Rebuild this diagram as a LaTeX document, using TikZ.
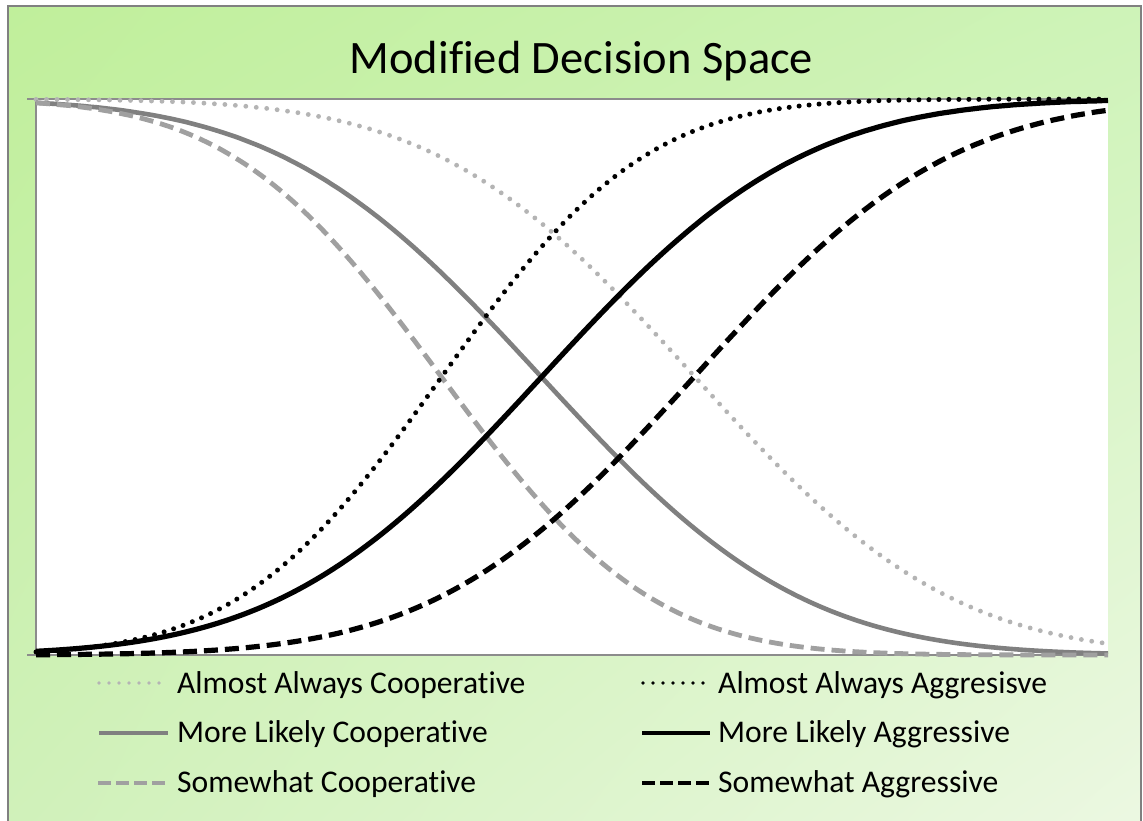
\documentclass[tikz,border=0pt]{standalone}
\usepackage{fontspec}
\setmainfont{Carlito}[Ligatures={NoCommon}]
\usetikzlibrary{shadings}
\definecolor{bgA}{RGB}{192,239,155}
\definecolor{bgB}{RGB}{206,243,184}
\definecolor{bgC}{RGB}{208,241,186}
\definecolor{bgD}{RGB}{236,248,226}
\definecolor{frame}{RGB}{128,128,128}
\definecolor{axisc}{RGB}{140,140,140}
\definecolor{lightdot}{RGB}{180,180,180}
\definecolor{midgray}{RGB}{128,128,128}
\definecolor{dashgray}{RGB}{160,160,160}
\begin{document}
\begin{tikzpicture}[x=1pt,y=-1pt,
  declare function={zc(\z)=max(min(\z,3.5),-3.5);
    ncdf(\z)=1/(1+exp(-(0.07056*zc(\z)*zc(\z)*zc(\z)+1.5976*zc(\z))));},
  curve/.style={line join=round},
  aacoop/.style={curve,lightdot,line width=4.8pt,line cap=round,dash pattern=on 0pt off 10.5pt},
  mlcoop/.style={curve,midgray,line width=4.6pt},
  swcoop/.style={curve,dashgray,line width=4.8pt,dash pattern=on 14pt off 7pt},
  aaagg/.style={curve,black,line width=5pt,line cap=round,dash pattern=on 0pt off 10pt},
  mlagg/.style={curve,black,line width=5.2pt},
  swagg/.style={curve,black,line width=5.2pt,dash pattern=on 14pt off 7pt},
  legtext/.style={anchor=base west,inner sep=0pt,font=\fontsize{31.6}{36}\selectfont},
  axisline/.style={axisc,line width=1.2pt}]
\useasboundingbox (0,0) rectangle (1143,820);
\begin{scope}
\clip (0,0) rectangle (1143,820);
\shade[upper left=bgA, upper right=bgB, lower left=bgC, lower right=bgD] (8,6) rectangle (1141,830);
\draw[frame,line width=2pt] (8,6) rectangle (1141,830);
\end{scope}
% plot area
\fill[white] (36,99) rectangle (1108,655);
\draw[axisline] (27,99) -- (1108,99);
\draw[axisline] (27,655) -- (1108,655);
\draw[axisline] (36,99) -- (36,655);
% title
\node[anchor=base,inner sep=0pt,font=\fontsize{46.5}{52}\selectfont] (title) at (581.5,73.5) {Modified Decision Space};
% curves (gray first)
\draw[aacoop] plot[domain=36:1108,samples=160,smooth] (\x,{655-556*ncdf(-(\x-695)/202)});
\draw[mlcoop] plot[domain=36:1108,samples=160,smooth] (\x,{655-556*ncdf(-(\x-541.5)/205)});
\draw[swcoop] plot[domain=36:1108,samples=160,smooth] (\x,{655-556*ncdf(-(\x-441.5)/165)});
\draw[aaagg] plot[domain=36:1108,samples=160,smooth] (\x,{655-556*ncdf((\x-441.5)/160)});
\draw[mlagg] plot[domain=36:1108,samples=160,smooth] (\x,{655-556*ncdf((\x-541.5)/205)});
\draw[swagg] plot[domain=36:1108,samples=160,smooth] (\x,{655-556*ncdf((\x-694)/202)});
% legend
\coordinate (l1a) at (99,683); \coordinate (l1b) at (168,683);
\coordinate (l2a) at (99,733); \coordinate (l2b) at (168,733);
\coordinate (l3a) at (98,783); \coordinate (l3b) at (168,783);
\coordinate (r1a) at (643,683); \coordinate (r1b) at (710,683);
\coordinate (r2a) at (642,733); \coordinate (r2b) at (710,733);
\coordinate (r3a) at (642,783); \coordinate (r3b) at (712,783);
\draw[lightdot,line width=3.8pt,line cap=round,dash pattern=on 0pt off 10pt] (l1a) -- (l1b);
\draw[midgray,line width=4.8pt] (l2a) -- (l2b);
\draw[dashgray,line width=4.8pt,dash pattern=on 13pt off 5pt] (l3a) -- (l3b);
\draw[black,line width=3.8pt,line cap=round,dash pattern=on 0pt off 10pt] (r1a) -- (r1b);
\draw[black,line width=4.8pt] (r2a) -- (r2b);
\draw[black,line width=4.8pt,dash pattern=on 13pt off 5pt] (r3a) -- (r3b);
\node[legtext] (t1) at (177,693) {Almost Always Cooperative};
\node[legtext] (t2) at (177,742.5) {More Likely Cooperative};
\node[legtext] (t3) at (177,792) {Somewhat Cooperative};
\node[legtext] (t4) at (718,693) {Almost Always Aggresisve};
\node[legtext] (t5) at (718,742.5) {More Likely Aggressive};
\node[legtext] (t6) at (718,792) {Somewhat Aggressive};
\end{tikzpicture}
\end{document}
